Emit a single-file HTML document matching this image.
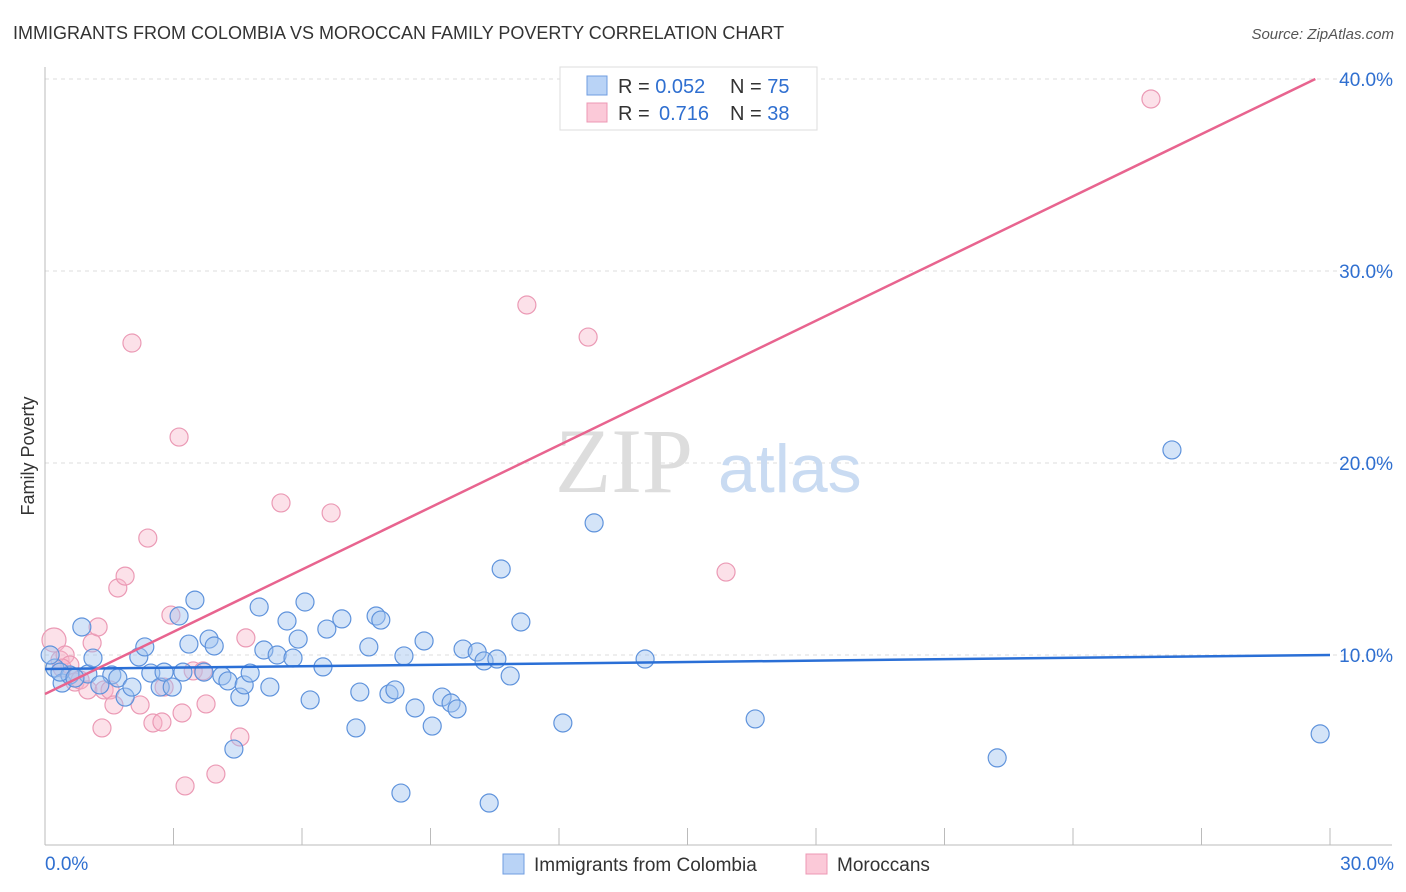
<!DOCTYPE html>
<html><head><meta charset="utf-8">
<style>
body{margin:0;background:#fff;font-family:"Liberation Sans",sans-serif;}
svg{display:block}
</style></head>
<body>
<svg width="1406" height="892" xmlns="http://www.w3.org/2000/svg">
<text x="13" y="39" font-size="18" fill="#333">IMMIGRANTS FROM COLOMBIA VS MOROCCAN FAMILY POVERTY CORRELATION CHART</text>
<text x="1394" y="39" font-size="15" fill="#555" font-style="italic" text-anchor="end">Source: ZipAtlas.com</text>
<g id="grid"></g>
<text x="555" y="492" font-size="92" fill="#ddd" font-family="Liberation Serif,serif">ZIP</text>
<text x="718" y="492" font-size="68" fill="#c9dbf2">atlas</text>
<g id="marks"></g>
<text x="34" y="456" font-size="18" fill="#333" text-anchor="middle" transform="rotate(-90 34 456)">Family Poverty</text>
<g>
<rect x="560" y="67" width="257" height="63" fill="#fff" stroke="#ddd"/>
<rect x="587" y="76" width="20" height="19" fill="#b9d3f6" stroke="#6f9de0"/>
<rect x="587" y="103" width="20" height="19" fill="#fbc9d8" stroke="#ec98b4"/>
<text x="618" y="93" font-size="20" fill="#333">R = <tspan fill="#2f6fd0">0.052</tspan><tspan x="730">N = </tspan><tspan fill="#2f6fd0">75</tspan></text>
<text x="618" y="120" font-size="20" fill="#333">R = <tspan x="659" fill="#2f6fd0">0.716</tspan><tspan x="730">N = </tspan><tspan fill="#2f6fd0">38</tspan></text>
</g>
<g>
<rect x="503" y="854" width="21" height="20" fill="#b9d3f6" stroke="#6f9de0"/>
<text x="534" y="871" font-size="19" fill="#333">Immigrants from Colombia</text>
<rect x="806" y="854" width="21" height="20" fill="#fbc9d8" stroke="#ec98b4"/>
<text x="837" y="871" font-size="19" fill="#333">Moroccans</text>
</g>
</svg>
<script>
const yTicks=[10,20,30,40];
const xTickLabels=["0.0%","30.0%"];
const blueX=[0.23,0.40,0.58,0.86,1.00,1.12,1.56,1.70,1.87,2.03,2.19,2.33,2.47,2.69,2.78,2.97,3.13,3.22,3.36,3.50,3.71,3.83,3.95,4.13,4.27,4.41,4.55,4.65,4.79,5.00,5.11,5.25,5.42,5.65,5.79,5.91,6.07,6.19,6.49,6.58,6.93,7.26,7.35,7.56,7.73,7.84,8.03,8.17,8.31,8.38,8.64,8.85,9.04,9.27,9.48,9.62,9.76,10.09,10.25,10.37,10.55,10.65,10.86,11.11,12.09,12.82,14.01,16.58,22.23,26.31,29.77,0.12,0.35,0.70,1.28];
const blueY=[9.32,8.54,8.96,11.46,9.01,9.84,8.96,8.80,7.81,8.33,9.90,10.42,9.06,8.33,9.11,8.33,12.03,9.11,10.57,12.86,9.11,10.83,10.47,8.91,8.65,5.10,7.81,8.44,9.06,12.50,10.26,8.33,10.00,11.77,9.84,10.83,12.76,7.66,9.38,11.35,11.88,6.20,8.07,10.42,12.03,11.82,7.97,8.18,2.81,9.95,7.24,10.73,6.30,7.81,7.50,7.19,10.31,10.16,9.69,2.29,9.79,14.48,8.91,11.72,6.46,16.88,9.79,6.67,4.64,20.68,5.89,10.00,9.11,8.80,8.44];
const pinkX=[0.21,0.35,0.47,0.58,0.70,0.82,1.00,1.10,1.24,1.38,1.52,1.61,1.70,1.87,2.03,2.22,2.40,2.52,2.73,2.78,2.94,3.13,3.20,3.27,3.46,3.69,3.76,3.99,4.55,4.69,5.51,6.68,11.25,12.68,15.90,25.82,1.33,0.40];
const pinkY=[10.78,9.74,10.00,9.48,8.59,8.70,8.18,10.63,11.46,8.18,8.18,7.40,13.49,14.11,26.25,7.40,16.09,6.46,6.51,8.33,12.08,21.35,6.98,3.18,9.17,9.17,7.45,3.80,5.73,10.89,17.92,17.40,28.23,26.56,14.32,38.96,6.20,9.32];
const blueTrend=[9.27,10.0]; // y at x=0 and x=30
const pinkTrend=[7.97,1.08]; // intercept, slope
const NS="http://www.w3.org/2000/svg";
const X0=45,X1=1330,Y0=847,PY=19.2;
const sx=v=>X0+v*(X1-X0)/30, sy=v=>Y0-v*PY;
function mk(t,a,p){const e=document.createElementNS(NS,t);for(const k in a)e.setAttribute(k,a[k]);p.appendChild(e);return e;}
const grid=document.getElementById('grid'),marks=document.getElementById('marks');
yTicks.forEach(t=>{
 const l=mk('line',{x1:X0,x2:1392,y1:sy(t),y2:sy(t),stroke:'#ddd','stroke-dasharray':'4,4'},grid);
 
 
 const tx=mk('text',{x:1393,y:sy(t)+7,'font-size':19,fill:'#2f6fd0','text-anchor':'end'},grid);
 tx.textContent=t.toFixed(1)+'%';
 
 
});
const ax=mk('line',{x1:X0,x2:X0,y1:67,y2:845,stroke:'#bbb'},grid);


const bx=mk('line',{x1:X0,x2:1392,y1:845,y2:845,stroke:'#bbb'},grid);


for(let v=3;v<=30;v+=3){const tk=mk('line',{x1:sx(v),x2:sx(v),y1:828,y2:845,stroke:'#bbb'},grid);
 
 }
[[0,'start',45],[30,'end',1394]].forEach((d,i)=>{const t=mk('text',{x:d[2],y:870,'font-size':19,fill:'#2f6fd0','text-anchor':d[1]},grid);t.textContent=xTickLabels[i];
 
 });
function pts(xs,ys,fill,stroke,name){xs.forEach((x,i)=>{const c=mk('circle',{cx:sx(x),cy:sy(ys[i]),r:i===0&&name==='moroccan-point'?12:9,fill:fill,stroke:stroke,'stroke-width':1.2},marks);
 
 });}
pts(pinkX,pinkY,'rgba(248,180,200,0.4)','#eb9ab5','moroccan-point');
pts(blueX,blueY,'rgba(160,195,240,0.45)','#5f93dc','colombia-point');
const bl=mk('line',{x1:sx(0),y1:sy(blueTrend[0]),x2:sx(30),y2:sy(blueTrend[1]),stroke:'#2a6fd6','stroke-width':2.5},marks);


const xe=Math.min(30,(40-pinkTrend[0])/pinkTrend[1]);
const pl=mk('line',{x1:sx(0),y1:sy(pinkTrend[0]),x2:sx(xe),y2:sy(pinkTrend[0]+pinkTrend[1]*xe),stroke:'#e8648f','stroke-width':2.5},marks);


</script>
</body></html>
